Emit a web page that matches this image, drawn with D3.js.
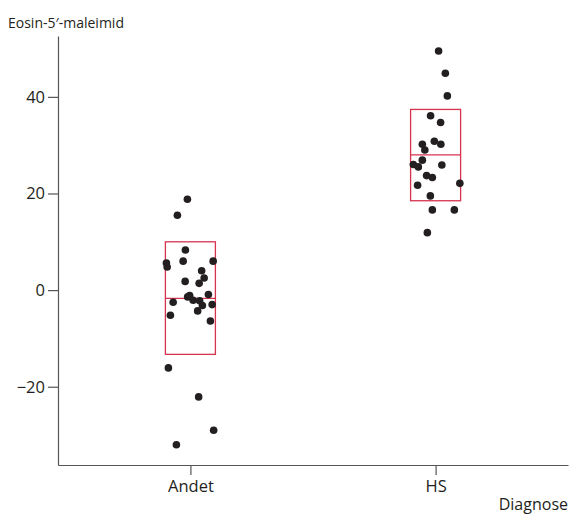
<!DOCTYPE html>
<html lang="da">
<head>
<meta charset="UTF-8">
<title>Eosin-5'-maleimid efter diagnose</title>
<script src="https://d3js.org/d3.v7.min.js"></script>
<style>
  body { margin: 0; background: #fff; }
  svg text { font-family: "Open Sans", "Noto Sans", sans-serif; fill: #231f20; }
</style>
</head>
<body>
<div id="chart"></div>
<script>
// categories on the x axis
const categories = ["Andet", "HS"];

// box summaries: [q1, median, q3]
const boxes = [
  { group: "Andet", q1: -13.3, median: -1.7, q3: 10.0 },
  { group: "HS", q1: 18.5, median: 28.0, q3: 37.4 }
];

// individual measurements, jitter is the horizontal offset relative to the box half-width
const andetValues = [18.8, 15.5, 8.3, 5.6, 4.8, 6.0, 6.0, 4.0, 2.5, 1.8, 1.4, -0.9, -1.1,
  -1.4, -2.1, -2.2, -2.5, -3.2, -3.0, -4.3, -5.2, -6.4, -16.1, -22.1, -29.0, -32.0];
const andetJitter = [-0.12, -0.52, -0.2, -0.96, -0.93, -0.29, 0.91, 0.45, 0.55, -0.21, 0.35, 0.72, -0.03,
  -0.11, 0.11, 0.37, -0.69, 0.48, 0.87, 0.29, -0.8, 0.8, -0.88, 0.33, 0.93, -0.56];

const hsValues = [49.5, 44.9, 40.2, 36.1, 34.7, 30.8, 30.2, 30.2, 29.0, 26.9, 26.0, 25.5, 25.9,
  23.7, 23.3, 21.7, 22.1, 19.5, 16.6, 16.6, 11.9];
const hsJitter = [0.12, 0.39, 0.47, -0.2, 0.2, -0.05, -0.53, 0.21, -0.43, -0.53, -0.89, -0.69, 0.25,
  -0.36, -0.13, -0.72, 0.97, -0.21, -0.13, 0.75, -0.33];

const yTicks = [-20, 0, 20, 40];

const points = [
  ...andetValues.map((v, i) => ({ group: "Andet", value: v, jitter: andetJitter[i] })),
  ...hsValues.map((v, i) => ({ group: "HS", value: v, jitter: hsJitter[i] }))
];

const width = 580, height = 515;
const margin = { top: 36, right: 12, bottom: 50, left: 58 };

const svg = d3.select("#chart").append("svg")
  .attr("width", width)
  .attr("height", height);

const x = d3.scalePoint()
  .domain(categories)
  .range([margin.left, width - margin.right])
  .padding(0.54);

const y = d3.scaleLinear()
  .domain([-36.2, 52.6])
  .range([height - margin.bottom, margin.top]);

const halfBox = 25;
const jit = d3.scaleLinear().domain([-1, 1]).range([-halfBox, halfBox]);

// axes
const xAxis = svg.append("g")
  .attr("transform", `translate(0,${height - margin.bottom})`)
  .call(d3.axisBottom(x).tickSize(10).tickSizeOuter(0).tickPadding(5));

const yAxis = svg.append("g")
  .attr("transform", `translate(${margin.left},0)`)
  .call(d3.axisLeft(y).tickValues(yTicks).tickSize(10).tickSizeOuter(0).tickPadding(3));

[xAxis, yAxis].forEach(ax => {
  ax.select(".domain").attr("stroke", "#555").attr("stroke-width", 1.2);
  ax.selectAll(".tick line").attr("stroke", "#555").attr("stroke-width", 1.2);
  ax.selectAll(".tick text").attr("font-size", 16.5).attr("fill", "#231f20")
    .attr("font-family", "'Open Sans', 'Noto Sans', sans-serif");
});

// boxes
const boxG = svg.append("g");
boxG.selectAll("rect")
  .data(boxes)
  .join("rect")
  .attr("x", d => x(d.group) - halfBox)
  .attr("y", d => y(d.q3))
  .attr("width", halfBox * 2)
  .attr("height", d => y(d.q1) - y(d.q3))
  .attr("fill", "none")
  .attr("stroke", "#d6334f")
  .attr("stroke-width", 1.3);

boxG.selectAll("line")
  .data(boxes)
  .join("line")
  .attr("x1", d => x(d.group) - halfBox)
  .attr("x2", d => x(d.group) + halfBox)
  .attr("y1", d => y(d.median))
  .attr("y2", d => y(d.median))
  .attr("stroke", "#d6334f")
  .attr("stroke-width", 1.3);

// points
svg.append("g")
  .selectAll("circle")
  .data(points)
  .join("circle")
  .attr("cx", d => x(d.group) + jit(d.jitter))
  .attr("cy", d => y(d.value))
  .attr("r", 3.8)
  .attr("fill", "#231f20");

// axis titles
svg.append("text")
  .attr("x", 8)
  .attr("y", 28)
  .attr("font-size", 14)
  .text("Eosin-5\u2032-maleimid");

svg.append("text")
  .attr("x", width - margin.right)
  .attr("y", 510)
  .attr("text-anchor", "end")
  .attr("font-size", 16)
  .text("Diagnose");
</script>
</body>
</html>
